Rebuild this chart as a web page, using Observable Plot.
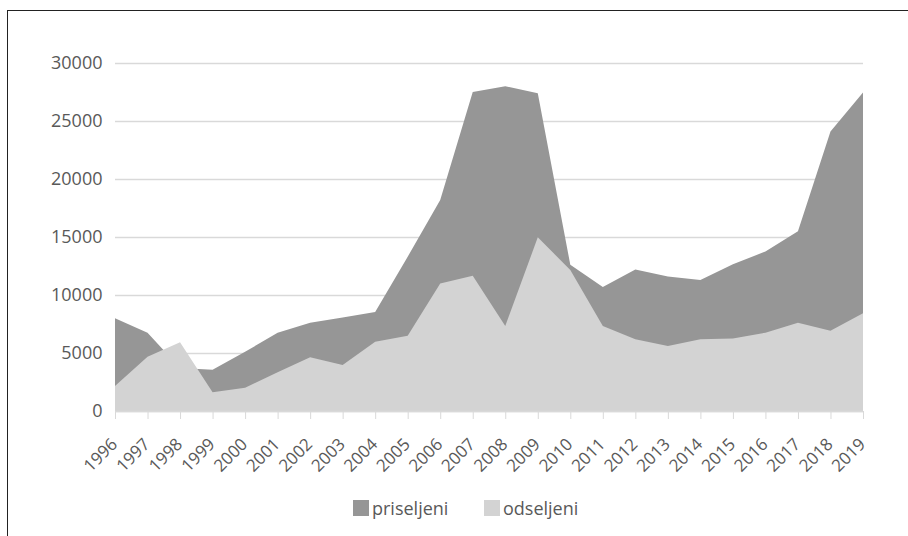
<!DOCTYPE html>
<html>
<head>
<meta charset="utf-8">
<script src="https://cdn.jsdelivr.net/npm/d3@7"></script>
<script src="https://cdn.jsdelivr.net/npm/@observablehq/plot@0.6"></script>
<style>
  html, body { margin: 0; padding: 0; background: #fff; overflow: hidden; }
  #wrap { position: relative; width: 908px; height: 536px; font-family: "Open Sans", sans-serif; }
  #frame { position: absolute; left: 7px; top: 10px; right: -5px; bottom: -5px; border-left: 1.5px solid #222; border-top: 1.5px solid #222; }
  #chart { position: absolute; left: 0; top: 0; }
  .leg { position: absolute; top: 496px; font-size: 18px; color: #595959; display: flex; align-items: center; }
  .sw { width: 16px; height: 16px; margin-right: 3px; }
</style>
</head>
<body>
<div id="wrap">
  <div id="frame"></div>
  <div id="chart"></div>
  <div class="leg" style="left:353px"><div class="sw" style="background:#969696"></div>priseljeni</div>
  <div class="leg" style="left:484px"><div class="sw" style="background:#d3d3d3"></div>odseljeni</div>
</div>
<script>
const years = [1996,1997,1998,1999,2000,2001,2002,2003,2004,2005,2006,2007,2008,2009,2010,2011,2012,2013,2014,2015,2016,2017,2018,2019];
const priseljeni = [8000,6750,3700,3550,5100,6750,7600,8050,8530,13300,18200,27500,28000,27400,12600,10700,12200,11600,11300,12650,13750,15500,24100,27450];
const odseljeni = [2150,4680,5920,1620,2010,3330,4630,3970,5980,6490,11000,11670,7330,14970,12160,7330,6180,5600,6180,6260,6750,7610,6920,8420];
const yTicks = [0,5000,10000,15000,20000,25000,30000];

const dataP = years.map((y,i) => ({year: y, value: priseljeni[i]}));
const dataO = years.map((y,i) => ({year: y, value: odseljeni[i]}));

const chart = Plot.plot({
  width: 908,
  height: 480,
  marginLeft: 115,
  marginRight: 45,
  marginTop: 63,
  marginBottom: 69,
  style: {fontFamily: "Open Sans, sans-serif", background: "transparent"},
  x: {domain: [1996, 2019], axis: null},
  y: {domain: [0, 30000], axis: null},
  marks: [
    Plot.ruleY(yTicks, {stroke: "#d9d9d9", strokeWidth: 1.3}),
    Plot.areaY(dataP, {x: "year", y: "value", fill: "#969696"}),
    Plot.areaY(dataO, {x: "year", y: "value", fill: "#d3d3d3"}),
    Plot.ruleY([0], {stroke: "#d9d9d9", strokeWidth: 1.3}),
    Plot.axisX({ticks: years, tickSize: 8, stroke: "#d9d9d9", tickFormat: () => "", label: null}),
    Plot.text(years, {x: d => d, frameAnchor: "bottom", dy: 30, dx: -1, rotate: -45, textAnchor: "end", lineAnchor: "middle", text: d => String(d), fontSize: 17, fill: "#595959"}),
    Plot.axisY({ticks: yTicks, tickSize: 0, tickPadding: 13, tickFormat: d => String(d), fontSize: 18, fill: "#595959", label: null})
  ]
});
document.getElementById("chart").appendChild(chart);
</script>
</body>
</html>
